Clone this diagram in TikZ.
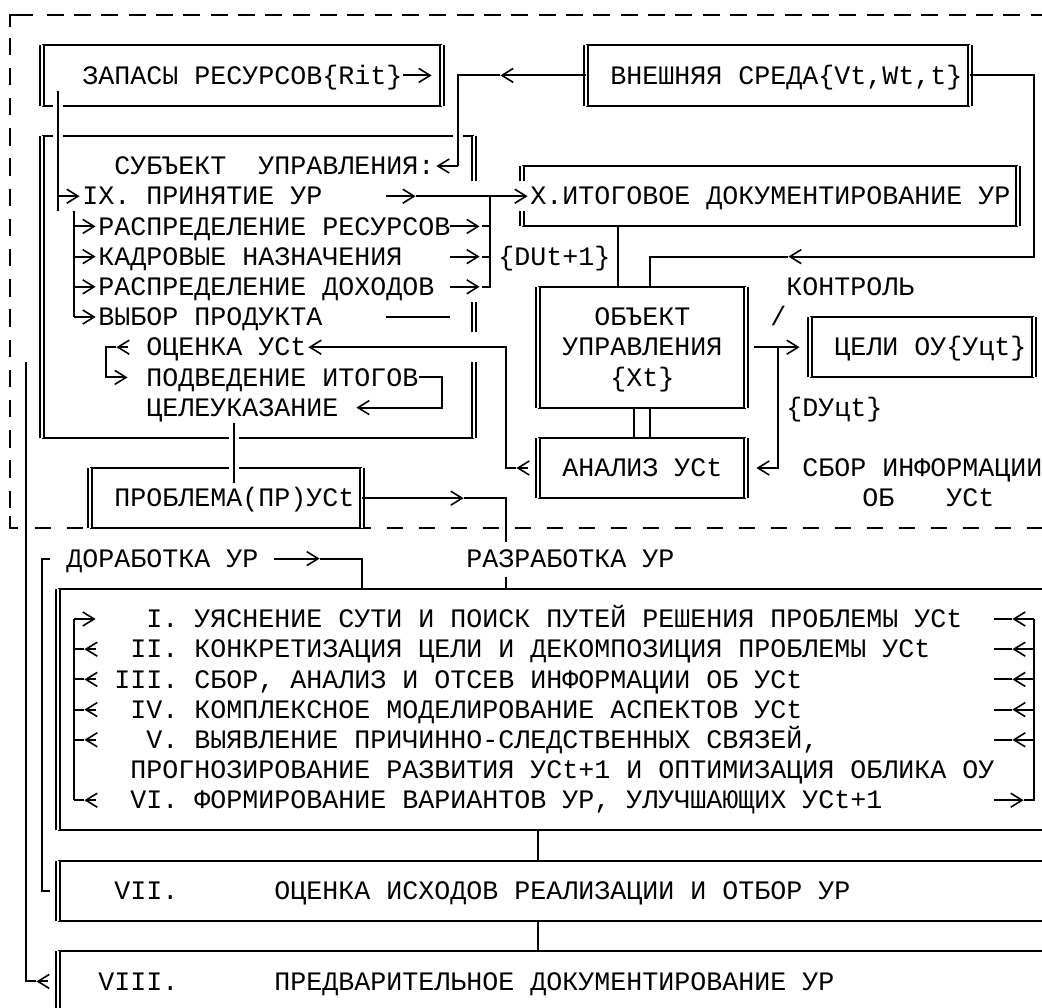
\documentclass[tikz,border=0pt]{standalone}
\usepackage{fontspec}
\newfontfamily\mono{Liberation Mono}
\usetikzlibrary{arrows.meta,fit}
\newlength\capht
\settoheight\capht{\mono\fontsize{20}{22.65}\selectfont Н}
\frenchspacing
\tikzset{
  ln/.style={line width=1.4pt},
  ar/.style={ln, -{Straight Barb[length=8.5pt, width=10.5pt, line width=1.2pt]}},
  halo/.style={preaction={draw=white, line width=8pt}},
  dbl/.style={double, double distance=2pt, line width=1.3pt},
  dsh/.style={line width=1.4pt, dash pattern=on 12.75pt off 7.75pt},
  dshb/.style={line width=1.4pt, dash pattern=on 12pt off 12pt},
  vdsh/.style={line width=1.4pt, dash pattern=on 13pt off 9.65pt},
  box/.style={inner sep=0, outer sep=0,
    append after command={
      (\tikzlastnode.north west) edge[ln] (\tikzlastnode.north east)
      (\tikzlastnode.south west) edge[ln] (\tikzlastnode.south east)
      (\tikzlastnode.north west) edge[dbl] (\tikzlastnode.south west)
      (\tikzlastnode.north east) edge[dbl] (\tikzlastnode.south east)}},
  hbox/.style={inner sep=0, outer sep=0,
    append after command={
      (\tikzlastnode.north west) edge[ln] (\tikzlastnode.north east)
      (\tikzlastnode.south west) edge[ln] (\tikzlastnode.south east)}},
  txt/.style={font=\mono\fontsize{20}{22.65}\selectfont\frenchspacing, inner sep=0,
              anchor=west, text height=\capht, text depth=0pt},
}
\begin{document}
\begin{tikzpicture}[x=12pt, y=-22.65pt]
\useasboundingbox (-0.625,-0.4967) rectangle (64.5,32.848);
\clip (-0.625,-0.4967) rectangle (64.5,32.848);
\fill[white] (-0.625,-0.4967) rectangle (64.5,32.848);

% dashed frame
\draw[ln] (1.44,0) -- (0,0) -- (0,0.4);
\draw[dsh] (2.3,0) -- (65,0);
\draw[vdsh] (0,0.75) -- (0,16.5);
\draw[ln] (0,16.6) -- (0,17) -- (0.5,17);
\draw[dshb] (1.56,17) -- (65,17);

% boxes
\node[box, fit={(2,1) (27,3)}] (zap) {};
\node[box, fit={(36,1) (60,3)}] (ext) {};
\node[hbox, fit={(2,4) (29,14)}] (subj) {};
\draw[dbl] (2,4) -- (2,14);
\draw[dbl] (29,4) -- (29,5.5) (29,9.5) -- (29,10.5) (29,11.5) -- (29,14);
\node[hbox, fit={(32,5) (63,7)}] (itog) {};
\draw[dbl] (32,5) -- (32,5.5) (32,6.5) -- (32,7) (63,5) -- (63,7);
\node[box, fit={(33,9) (46,13)}] (obj) {};
\node[box, fit={(50,10) (64,12)}] (celi) {};
\node[box, fit={(33,14) (46,16)}] (anal) {};
\node[box, fit={(5,15) (22,17)}] (prob) {};
\node[box, fit={(3,19) (66,27)}] (razr) {};
\node[box, fit={(3,28) (66,30)}] (vii) {};
\node[box, fit={(3,31) (66,33)}] (viii) {};

% texts
\node[txt] (tzap) at (4.5,2) {ЗАПАСЫ РЕСУРСОВ\{Rit\}};
\node[txt] (text) at (37.5,2) {ВНЕШНЯЯ СРЕДА\{Vt,Wt,t\}};
\node[txt] (tsubj) at (6.5,5) {СУБЪЕКТ\ \ УПРАВЛЕНИЯ:};
\node[txt] (t9) at (4.5,6) {IX. ПРИНЯТИЕ УР};
\node[txt] (t10) at (32.5,6) {X.ИТОГОВОЕ ДОКУМЕНТИРОВАНИЕ УР};
\node[txt] (tres) at (5.5,7) {РАСПРЕДЕЛЕНИЕ РЕСУРСОВ};
\node[txt] (tkadr) at (5.5,8) {КАДРОВЫЕ НАЗНАЧЕНИЯ};
\node[txt] (tdu) at (30.5,8) {\{DUt+1\}};
\node[txt] (tdoh) at (5.5,9) {РАСПРЕДЕЛЕНИЕ ДОХОДОВ};
\node[txt] (tkontr) at (48.5,9) {КОНТРОЛЬ};
\node[txt] (tvyb) at (5.5,10) {ВЫБОР ПРОДУКТА};
\node[txt] (tobj1) at (36.5,10) {ОБЪЕКТ};
\node[txt] (tslash) at (47.5,10) {/};
\node[txt] (tocen) at (8.5,11) {ОЦЕНКА УСt};
\node[txt] (tobj2) at (34.5,11) {УПРАВЛЕНИЯ};
\node[txt] (tceli) at (51.5,11) {ЦЕЛИ ОУ\{Уцt\}};
\node[txt] (tpodv) at (8.5,12) {ПОДВЕДЕНИЕ ИТОГОВ};
\node[txt] (tobj3) at (37.5,12) {\{Xt\}};
\node[txt] (tcel) at (8.5,13) {ЦЕЛЕУКАЗАНИЕ};
\node[txt] (tdy) at (48.5,13) {\{DУцt\}};
\node[txt] (tanal) at (34.5,15) {АНАЛИЗ УСt};
\node[txt] (tsbor) at (49.5,15) {СБОР ИНФОРМАЦИИ};
\node[txt] (tprob) at (6.5,16) {ПРОБЛЕМА(ПР)УСt};
\node[txt] (tob) at (53.25,16) {ОБ};
\node[txt] (tusc) at (58.5,16) {УСt};
\node[txt] (tdor) at (3.5,18) {ДОРАБОТКА УР};
\node[txt] (trazr) at (28.5,18) {РАЗРАБОТКА УР};
\node[txt] (st1) at (8.5,20) {I. УЯСНЕНИЕ СУТИ И ПОИСК ПУТЕЙ РЕШЕНИЯ ПРОБЛЕМЫ УСt};
\node[txt] (st2) at (7.5,21) {II. КОНКРЕТИЗАЦИЯ ЦЕЛИ И ДЕКОМПОЗИЦИЯ ПРОБЛЕМЫ УСt};
\node[txt] (st3) at (6.5,22) {III. СБОР, АНАЛИЗ И ОТСЕВ ИНФОРМАЦИИ ОБ УСt};
\node[txt] (st4) at (7.5,23) {IV. КОМПЛЕКСНОЕ МОДЕЛИРОВАНИЕ АСПЕКТОВ УСt};
\node[txt] (st5) at (8.5,24) {V. ВЫЯВЛЕНИЕ ПРИЧИННО-СЛЕДСТВЕННЫХ СВЯЗЕЙ,};
\node[txt] (st5b) at (7.5,25) {ПРОГНОЗИРОВАНИЕ РАЗВИТИЯ УСt+1 И ОПТИМИЗАЦИЯ ОБЛИКА ОУ};
\node[txt] (st6) at (7.5,26) {VI. ФОРМИРОВАНИЕ ВАРИАНТОВ УР, УЛУЧШАЮЩИХ УСt+1};
\node[txt] (n7) at (6.5,29) {VII.};
\node[txt] (st7) at (16.5,29) {ОЦЕНКА ИСХОДОВ РЕАЛИЗАЦИИ И ОТБОР УР};
\node[txt] (n8) at (5.5,32) {VIII.};
\node[txt] (st8) at (16.5,32) {ПРЕДВАРИТЕЛЬНОЕ ДОКУМЕНТИРОВАНИЕ УР};

% connectors crossing box edges
\draw[ln,halo] (3,2.5) -- (3,6.5);
\draw[ln,halo] (30.65,2) -- (28,2) -- (28,5);
\draw[ln,halo] (14,13.5) -- (14,15.5);
\draw[ln,halo] (1.65,32) -- (1,32) -- (1,11.5);

% upper block
\draw[ar] (tzap.east) -- (26.35,2);
\draw[ar] (ext.west) -- (30.65,2);
\draw[ar] (28,5) -- (26.65,5);
\draw[ar] (3,6) -- (4.35,6);
\draw[ln] (4,6.5) -- (4,10);
\foreach \k in {7,8,9,10} \draw[ar] (4,\k) -- (5.35,\k);
\draw[ar] (23.5,6) -- (25.35,6);
\draw[ar] (25.35,6) -- (32.35,6);
\foreach \k in {7,8,9} \draw[ar] (27.5,\k) -- (29.35,\k);
\draw[ln] (30,6) -- (30,9) -- (29.5,9) (29.5,7) -- (30,7) (29.5,8) -- (30,8);
\draw[ln] (23.5,10) -- (27.5,10);
\draw[ar] (32.4,15) -- (31.65,15);
\draw[ar] (31.65,15) -- (31,15) -- (31,11) -- (18.65,11);
\draw[ar] (7.4,11) -- (6.65,11);
\draw[ar] (6.65,11) -- (6,11) -- (6,12) -- (7.35,12);
\draw[ar] (tpodv.east) -- (27,12) -- (27,13) -- (21.65,13);
\draw[ar] (prob.east) -- (28.35,16);
\draw[ln] (28.35,16) -- (31,16) -- (31,17.45);
\draw[ln] (31,18.6) -- (31,19);

% object side
\draw[ln] (38,7) -- (38,9);
\draw[ar] (ext.east) -- (64,2) -- (64,8) -- (48.65,8);
\draw[ln] (48.65,8) -- (40,8) -- (40,9);
\draw[ln] (39,13) -- (39,14) (40,13) -- (40,14);
\draw[ar] (46.5,11) -- (49.35,11);
\draw[ar] (48,11) -- (48,15) -- (46.65,15);

% lower block
\draw[ar] (2.4,32) -- (1.65,32);
\draw[ln] (2.5,18) -- (2,18) -- (2,29) -- (2.5,29);
\draw[ar] (16.5,18) -- (19.35,18);
\draw[ln] (19.35,18) -- (22,18) -- (22,19);
\draw[ln] (4,20) -- (4,26);
\draw[ar] (4,20) -- (5.35,20);
\foreach \k in {21,22,23,24,26} {
  \draw[ln] (4,\k) -- (4.65,\k);
  \draw[ar] (5.4,\k) -- (4.65,\k);
}
\draw[ln] (64,20) -- (64,26) -- (63.35,26);
\draw[ar] (61.5,26) -- (63.35,26);
\foreach \k in {20,21,22,23,24} {
  \draw[ar] (64,\k) -- (62.65,\k);
  \draw[ln] (62.65,\k) -- (61.5,\k);
}
\draw[ln] (33,27) -- (33,28) (33,30) -- (33,31);
\end{tikzpicture}
\end{document}
